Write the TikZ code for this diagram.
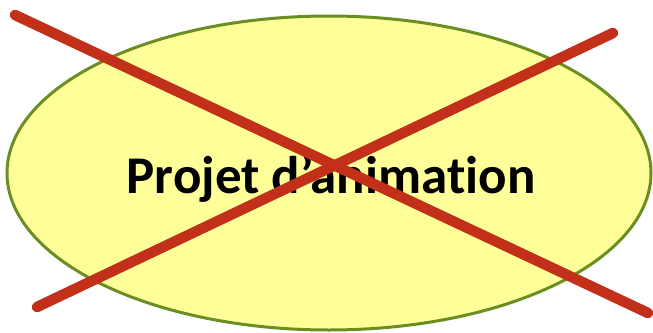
\documentclass[tikz,border=0pt]{standalone}
\usepackage{fontspec}
\setmainfont[Ligatures=NoCommon]{Carlito}
\definecolor{fillyellow}{HTML}{FFFF99}
\definecolor{edgegreen}{HTML}{6B8E23}
\definecolor{crossred}{HTML}{C3301A}
\begin{document}
\begin{tikzpicture}[x=1pt,y=-1pt,
  cross/.style={draw=crossred,line width=10.5pt,line cap=round},
  ellnode/.style={draw=edgegreen,line width=3pt,fill=fillyellow}]
\useasboundingbox (0,0) rectangle (653,332);
\draw[ellnode] (329,173) ellipse [x radius=322, y radius=157];
\node[anchor=base,inner sep=0pt,font=\bfseries\fontsize{53}{60}\selectfont] (txt) at (331,193) {Projet d’animation};
\coordinate (a1) at (15,15);
\coordinate (a2) at (648,313);
\coordinate (b1) at (613,33);
\coordinate (b2) at (37,307);
\draw[cross] (a1) -- (a2);
\draw[cross] (b1) -- (b2);
\end{tikzpicture}
\end{document}
